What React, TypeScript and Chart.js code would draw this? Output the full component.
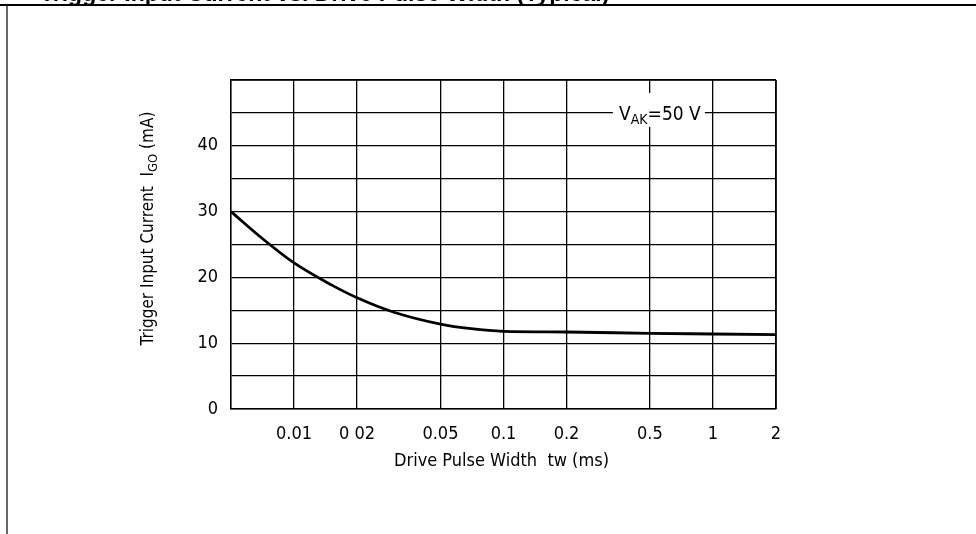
import React, { useEffect, useRef } from "react";
import { Chart, registerables } from "chart.js";

Chart.register(...registerables);

// Data
const pulseWidthMs = [0.005, 0.007, 0.01, 0.015, 0.02, 0.03, 0.05, 0.07, 0.1, 0.2, 0.5, 1, 2];
const triggerCurrentMa = [30, 26, 22.2, 18.9, 16.9, 14.7, 12.9, 12.2, 11.8, 11.7, 11.5, 11.4, 11.3];
const xTickValues = [0.01, 0.02, 0.05, 0.1, 0.2, 0.5, 1, 2];
const xTickLabels = ["0.01", "0 02", "0.05", "0.1", "0.2", "0.5", "1", "2"];
const yTickValues = [0, 10, 20, 30, 40];
const yTickLabels = ["0", "10", "20", "30", "40"];

const FONT = '"Liberation Sans Narrow", "DejaVu Sans Condensed", "Liberation Sans", Arial, sans-serif';

type Part = { text: string; sub?: boolean };

function drawRich(ctx: CanvasRenderingContext2D, parts: Part[], x: number, y: number, size: number, subSize: number) {
  let total = 0;
  const widths = parts.map((p) => {
    ctx.font = `${p.sub ? subSize : size}px ${FONT}`;
    const w = ctx.measureText(p.text).width;
    total += w;
    return w;
  });
  let cx = x - total / 2;
  ctx.textAlign = "left";
  ctx.textBaseline = "alphabetic";
  parts.forEach((p, i) => {
    ctx.font = `${p.sub ? subSize : size}px ${FONT}`;
    ctx.fillText(p.text, cx, p.sub ? y + size * 0.22 : y);
    cx += widths[i];
  });
  return total;
}

const decorPlugin = {
  id: "decor",
  afterDraw(chart: any) {
    const ctx: CanvasRenderingContext2D = chart.ctx;
    const { left, right, top, bottom } = chart.chartArea;
    const xs = chart.scales.x;
    const ys = chart.scales.y;
    ctx.save();
    ctx.fillStyle = "#000";

    // page frame
    ctx.strokeStyle = "#000";
    ctx.lineWidth = 2;
    ctx.beginPath();
    ctx.moveTo(0, 5);
    ctx.lineTo(chart.width, 5);
    ctx.stroke();
    ctx.lineWidth = 1.2;
    ctx.beginPath();
    ctx.moveTo(7, 5);
    ctx.lineTo(7, chart.height);
    ctx.stroke();

    // clipped heading
    ctx.font = `bold 23px "Liberation Sans", Arial, sans-serif`;
    ctx.textAlign = "left";
    ctx.textBaseline = "alphabetic";
    ctx.fillText("Trigger Input Current vs. Drive Pulse Width (Typical)", 40, 1);

    // x-axis title
    ctx.font = `18px ${FONT}`;
    ctx.textAlign = "center";
    ctx.fillText("Drive Pulse Width  tw (ms)", (left + right) / 2 - 2, bottom + 57);

    // y-axis title (rotated)
    ctx.save();
    ctx.translate(left - 78, (top + bottom) / 2 - 16);
    ctx.rotate(-Math.PI / 2);
    drawRich(ctx, [{ text: "Trigger Input Current  I" }, { text: "GO", sub: true }, { text: " (mA)" }], 0, 0, 17, 13);
    ctx.restore();

    // V_AK annotation
    const ax = xs.getPixelForValue(0.5);
    const ay = ys.getPixelForValue(45);
    ctx.fillStyle = "#fff";
    ctx.fillRect(ax - 37, ay - 20, 92, 34);
    ctx.fillStyle = "#000";
    drawRich(ctx, [{ text: "V" }, { text: "AK", sub: true }, { text: "=50 V" }], ax + 10, ay + 7, 19, 14);

    ctx.restore();
  },
};

export default function App() {
  const ref = useRef<HTMLCanvasElement | null>(null);
  useEffect(() => {
    document.body.style.margin = "0";
    const canvas = ref.current!;
    const chart = new Chart(canvas, {
      type: "line",
      data: {
        datasets: [
          {
            data: pulseWidthMs.map((x, i) => ({ x, y: triggerCurrentMa[i] })),
            borderColor: "#000",
            borderWidth: 2.8,
            pointRadius: 0,
            cubicInterpolationMode: "monotone",
            fill: false,
          },
        ],
      },
      options: {
        animation: false,
        responsive: false,
        devicePixelRatio: 1,
        layout: { padding: { top: 80, right: 200, left: 0, bottom: 0 } },
        plugins: { legend: { display: false }, tooltip: { enabled: false } },
        scales: {
          x: {
            type: "logarithmic",
            min: 0.005,
            max: 2,
            afterBuildTicks: (s: any) => {
              s.ticks = xTickValues.map((v) => ({ value: v }));
            },
            afterFit: (s: any) => {
              s.height = 125;
            },
            ticks: {
              autoSkip: false,
              maxRotation: 0,
              padding: 15,
              color: "#000",
              font: { family: FONT, size: 18 },
              callback: (v: any) => {
                const i = xTickValues.indexOf(Number(v));
                return i >= 0 ? xTickLabels[i] : "";
              },
            },
            grid: { color: "#000", lineWidth: 1.3, drawTicks: false },
            border: { color: "#000", width: 1.6 },
          },
          y: {
            type: "linear",
            min: 0,
            max: 50,
            afterFit: (s: any) => {
              s.width = 231;
            },
            ticks: {
              stepSize: 5,
              padding: 13,
              color: "#000",
              font: { family: FONT, size: 18 },
              callback: (v: any) => {
                const i = yTickValues.indexOf(Number(v));
                return i >= 0 ? yTickLabels[i] : "";
              },
            },
            grid: { color: "#000", lineWidth: 1.3, drawTicks: false },
            border: { color: "#000", width: 1.6 },
          },
        },
      },
      plugins: [
        decorPlugin,
        {
          id: "rightBorder",
          afterDatasetsDraw(chart: any) {
            const { right, top, bottom, left } = chart.chartArea;
            const c = chart.ctx;
            c.save();
            c.strokeStyle = "#000";
            c.lineWidth = 1.6;
            c.beginPath();
            c.moveTo(right, top);
            c.lineTo(right, bottom);
            c.moveTo(left, top);
            c.lineTo(right, top);
            c.stroke();
            c.restore();
          },
        },
      ],
    } as any);
    return () => chart.destroy();
  }, []);
  return (
    <div style={{ width: 976, height: 534, background: "#fff" }}>
      <canvas ref={ref} width={976} height={534} style={{ width: 976, height: 534, display: "block" }} />
    </div>
  );
}
